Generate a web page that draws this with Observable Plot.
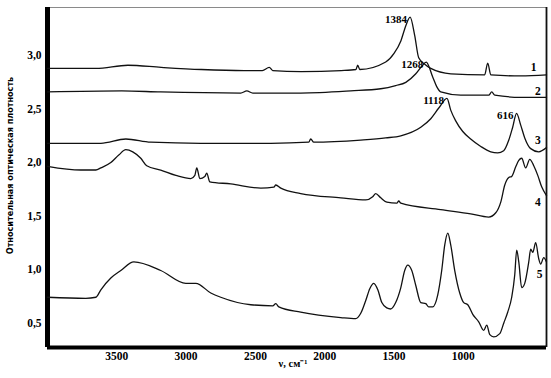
<!DOCTYPE html>
<html><head><meta charset="utf-8">
<script src="https://cdn.jsdelivr.net/npm/d3@7"></script>
<script src="https://cdn.jsdelivr.net/npm/@observablehq/plot@0.6"></script>
<style>body{margin:0;background:#fff} svg{display:block}</style>
</head><body><div id="chart"></div>
<script>
// Wavenumber (cm-1) and relative optical density for spectra 1..5
const wn1 = [4000,3650,3420,3180,2890,2580,2450,2400,2375,2170,1880,1775,1762,1747,1560,1500,1450,1415,1384,1351,1322,1278,1235,1090,846,824,802,586,400];
const a1  = [2.88,2.88,2.91,2.89,2.87,2.86,2.86,2.89,2.86,2.85,2.86,2.87,2.91,2.87,2.94,3.02,3.14,3.28,3.36,3.19,2.98,2.92,2.88,2.83,2.82,2.93,2.82,2.81,2.82];
const wn2 = [4000,3464,3183,2606,2562,2519,2173,1812,1596,1488,1415,1343,1300,1268,1221,1192,1163,1019,817,795,773,586,400];
const a2  = [2.66,2.67,2.66,2.65,2.67,2.65,2.65,2.67,2.69,2.72,2.75,2.83,2.90,2.94,2.80,2.71,2.66,2.63,2.63,2.66,2.63,2.61,2.61];
const wn3 = [4000,3615,3435,3255,2894,2389,2115,2101,2079,1740,1560,1451,1307,1235,1177,1118,1091,1055,1004,947,874,802,752,709,672,644,616,586,557,514,456,400];
const a3  = [2.18,2.18,2.22,2.19,2.18,2.18,2.19,2.22,2.19,2.21,2.23,2.25,2.33,2.41,2.51,2.60,2.49,2.39,2.29,2.22,2.15,2.10,2.09,2.11,2.21,2.33,2.46,2.35,2.23,2.13,2.10,2.14];
const wn4 = [4000,3760,3651,3615,3543,3486,3435,3385,3327,3284,3183,3074,2966,2937,2923,2901,2865,2851,2829,2678,2461,2367,2353,2317,2173,1884,1704,1654,1632,1596,1552,1480,1466,1451,1163,947,817,766,730,701,672,651,622,600,579,550,521,492,463,434,400];
const a4  = [1.965,1.93,1.93,1.95,2.00,2.07,2.12,2.10,2.04,1.97,1.93,1.88,1.85,1.88,1.95,1.85,1.87,1.90,1.82,1.80,1.76,1.77,1.79,1.76,1.71,1.67,1.65,1.68,1.71,1.67,1.63,1.62,1.64,1.62,1.56,1.52,1.49,1.53,1.63,1.79,1.86,1.87,1.96,2.02,2.04,1.95,2.03,1.97,1.88,1.77,1.69];
const wn5 = [4000,3724,3651,3615,3543,3471,3377,3183,3002,2930,2822,2750,2533,2375,2353,2331,2173,1884,1776,1740,1704,1675,1646,1617,1588,1552,1524,1488,1451,1423,1401,1372,1343,1307,1271,1250,1221,1185,1156,1134,1112,1091,1062,1026,997,968,932,889,853,831,809,781,737,708,680,651,629,615,600,579,557,528,514,499,478,456,442,420,400];
const a5  = [0.74,0.73,0.74,0.81,0.92,0.99,1.07,0.99,0.87,0.87,0.78,0.74,0.67,0.66,0.68,0.65,0.60,0.55,0.54,0.59,0.71,0.82,0.87,0.81,0.69,0.64,0.63,0.69,0.83,0.99,1.04,0.99,0.85,0.69,0.68,0.65,0.65,0.76,0.99,1.23,1.34,1.23,0.99,0.78,0.69,0.67,0.58,0.51,0.43,0.48,0.39,0.37,0.40,0.50,0.60,0.74,0.95,1.18,1.07,0.83,0.87,1.07,1.19,1.16,1.25,1.10,1.05,1.11,1.07];

const peakLabels = ["1384","1268","1118","616"];
const peakWn = [1384,1268,1118,616];
const peakA  = [3.36,2.94,2.60,2.46];

const seriesNames = ["1","2","3","4","5"];
const seriesLabelWn = [492,463,463,463,449];
const seriesLabelA  = [2.89,2.67,2.21,1.63,0.95];

const xTicks = [3500,3000,2500,2000,1500,1000];
const yTicks = [0.5,1.0,1.5,2.0,2.5,3.0];
const xDomain = [4000, 400];
const yDomain = [0.27, 3.45];

const xTitle = "ν, см⁻¹";
const yTitle = "Относительная оптическая плотность";

const allWn = [wn1,wn2,wn3,wn4,wn5];
const allA = [a1,a2,a3,a4,a5];
const data = allWn.flatMap((w, s) => w.map((v, i) => ({series: seriesNames[s], wn: v, a: allA[s][i]})));
const peaks = peakLabels.map((t, i) => ({t, wn: peakWn[i], a: peakA[i]}));
const names = seriesNames.map((t, i) => ({t, wn: seriesLabelWn[i], a: seriesLabelA[i]}));

const serif = "'Liberation Serif', 'Times New Roman', serif";
const sans = "'Liberation Sans Narrow', 'DejaVu Sans Condensed', 'Liberation Sans', sans-serif";

const chart = Plot.plot({
  width: 551, height: 378,
  marginLeft: 47, marginRight: 5, marginTop: 7, marginBottom: 31,
  x: {domain: xDomain},
  y: {domain: yDomain},
  style: {background: "white", color: "black", fontFamily: serif, overflow: "visible"},
  marks: [
    Plot.axisX({ticks: xTicks, tickSize: 0, tickPadding: 4, tickFormat: d => String(d), fontSize: 11.5, fontWeight: "bold", fontFamily: serif, label: null}),
    Plot.axisY({ticks: yTicks, tickSize: 0, tickPadding: 6, tickFormat: d => d.toFixed(1).replace(".", ","), fontSize: 11.5, fontWeight: "bold", fontFamily: serif, label: null}),
    Plot.ruleY([yDomain[1]], {stroke: "#8a8a8a", strokeWidth: 1}),
    Plot.ruleX([xDomain[1]], {stroke: "#111", strokeWidth: 1.8}),
    Plot.ruleX([xDomain[0]], {stroke: "#000", strokeWidth: 5}),
    Plot.ruleY([yDomain[0]], {stroke: "#000", strokeWidth: 4}),
    Plot.line(data, {x: "wn", y: "a", z: "series", curve: "monotone-x", stroke: "#111", strokeWidth: 1.3, strokeLinejoin: "round"}),
    Plot.text(peaks, {x: "wn", y: "a", text: "t", textAnchor: "end", lineAnchor: "bottom", dx: -3, dy: 6, fontSize: 11, fontWeight: "bold", fontFamily: serif, fill: "#000"}),
    Plot.text(names, {x: "wn", y: "a", text: "t", fontSize: 11.5, fontWeight: "bold", fontFamily: serif, fill: "#000"}),
    Plot.text([yTitle], {frameAnchor: "left", textAnchor: "middle", lineAnchor: "middle", rotate: -90, dx: -37, dy: -12, fontSize: 9, fontWeight: "bold", fontFamily: sans, fill: "#000"}),
    Plot.text([xTitle], {frameAnchor: "bottom", textAnchor: "middle", lineAnchor: "middle", dx: -4, dy: 16, fontSize: 10.5, fontWeight: "bold", fontFamily: serif, fill: "#000"})
  ]
});
document.getElementById("chart").appendChild(chart);
</script>
</body></html>
